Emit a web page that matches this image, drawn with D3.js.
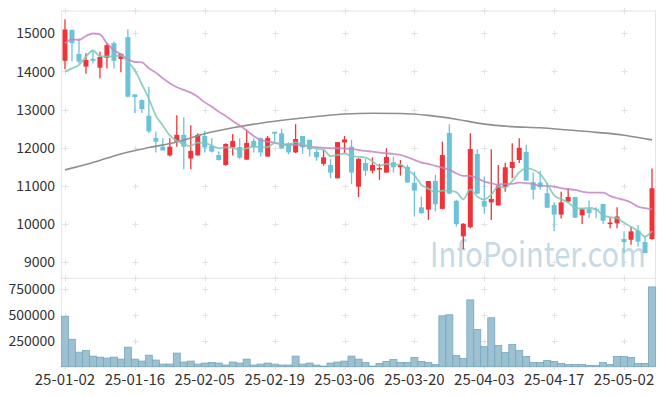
<!DOCTYPE html>
<html>
<head>
<meta charset="utf-8">
<script src="https://cdn.jsdelivr.net/npm/d3@7"></script>
<style>
  body { margin: 0; background: #fff; }
  text { font-family: "Noto Sans CJK KR", "Noto Sans", sans-serif; }
</style>
</head>
<body>
<div id="chart"></div>
<script>
// Data
const dates = [
  "25-01-02","25-01-03","25-01-06","25-01-07","25-01-08","25-01-09","25-01-10","25-01-13","25-01-14","25-01-15",
  "25-01-16","25-01-17","25-01-20","25-01-21","25-01-22","25-01-23","25-01-24","25-01-31","25-02-03","25-02-04",
  "25-02-05","25-02-06","25-02-07","25-02-10","25-02-11","25-02-12","25-02-13","25-02-14","25-02-17","25-02-18",
  "25-02-19","25-02-20","25-02-21","25-02-24","25-02-25","25-02-26","25-02-27","25-02-28","25-03-04","25-03-05",
  "25-03-06","25-03-07","25-03-10","25-03-11","25-03-12","25-03-13","25-03-14","25-03-17","25-03-18","25-03-19",
  "25-03-20","25-03-21","25-03-24","25-03-25","25-03-26","25-03-27","25-03-28","25-03-31","25-04-01","25-04-02",
  "25-04-03","25-04-04","25-04-07","25-04-08","25-04-09","25-04-10","25-04-11","25-04-14","25-04-15","25-04-16",
  "25-04-17","25-04-18","25-04-21","25-04-22","25-04-23","25-04-24","25-04-25","25-04-28","25-04-29","25-04-30",
  "25-05-02","25-05-07","25-05-08","25-05-09","25-05-12"
]
const opens = [14280,15090,14460,14130,14330,14100,14360,14740,14330,14900,13400,13250,12840,12260,12030,11800,12160,12340,11720,11800,
  12310,12050,11810,11550,12010,12020,11690,12180,12250,11770,12420,12380,12120,11880,12310,12210,11890,11580,11550,11200,
  12140,12030,10980,11600,11400,11430,11350,11620,11490,11500,11080,10440,10380,11130,10400,12390,10610,9680,9920,11840,
  10610,10570,10490,10980,11470,11680,11890,11100,11090,10810,10500,10250,10590,10710,10230,10390,10400,10530,10000,10020,
  9610,9590,9830,9530,9610]
const highs = [15370,15110,14870,14480,14560,14520,14740,14780,14480,15110,13400,13270,13600,12430,12250,12250,12850,12800,12590,12380,
  12450,12250,11900,12120,12360,12250,12470,12250,12270,12310,12420,12500,12140,12620,12310,12210,11960,11940,11700,12150,
  12310,12210,11730,11710,11750,11580,11990,11770,11680,11550,11380,10720,11130,11290,12160,12620,10640,10020,12380,11960,
  11250,11960,11550,11610,12120,12250,12080,11350,11390,11070,10570,10850,10940,10720,10420,10620,10440,10530,10180,10440,
  9810,9940,9980,9680,11460]
const lows = [14060,14260,14210,13940,14210,13820,14080,14080,13980,13320,12910,12910,12380,11880,11930,11770,12030,11440,11440,11800,
  11880,11880,11670,11530,11800,11700,11680,11880,11770,11770,12160,11980,11830,11860,11840,11770,11660,11530,11200,11200,
  11860,11050,10710,11270,11330,11160,11350,11350,11270,11090,10200,10270,10110,10330,10390,10790,9940,9340,9890,10790,
  10270,10110,10490,10850,11200,11600,11140,10650,10900,10420,9810,10150,10580,10160,10000,10160,10160,10000,9890,9890,
  9240,9460,9410,9240,9590]
const closes = [15100,14740,14260,14300,14280,14380,14690,14280,14460,13340,13330,13010,12430,12160,11930,12030,12340,12030,11920,12340,
  12010,11900,11680,12100,12180,11740,12130,12020,11880,12260,12370,11980,11880,12230,12010,11960,11750,11750,11350,12150,
  12220,11350,11710,11400,11550,11470,11760,11490,11550,11090,10880,10290,11130,10520,11810,10800,10000,10010,11970,10800,
  10460,10660,11010,11490,11630,12000,11140,10900,10970,10430,10250,10570,10710,10170,10390,10290,10370,10090,10040,10200,
  9530,9810,9540,9240,10940]
const volumes = [484000,264000,140000,156000,102000,92000,83000,92000,73000,188000,
  73000,54000,111000,64000,25000,25000,131000,45000,54000,25000,
  35000,41000,35000,16000,45000,35000,73000,16000,25000,35000,
  25000,16000,16000,102000,25000,35000,16000,6000,35000,45000,
  54000,102000,73000,41000,6000,32000,51000,70000,41000,41000,
  89000,51000,41000,22000,490000,500000,108000,80000,643000,357000,
  194000,471000,204000,137000,213000,156000,99000,41000,41000,61000,
  51000,32000,22000,22000,22000,13000,13000,41000,22000,99000,
  99000,89000,32000,32000,768000]
const ma5 = [13996,14083,14171,14390,14550,14400,14395,14400,14415,14250,14030,13665,13290,12845,12585,12325,12183,12085,12049,12134,
  12128,12055,11990,12010,12000,11945,11985,12033,12010,12020,12125,12097,12082,12140,12094,12022,11977,11952,11780,11812,
  11850,11780,11763,11745,11643,11525,11579,11557,11560,11420,11280,11030,10930,10840,10880,10880,10840,10650,10908,10720,
  10650,10773,10983,10955,11125,11355,11460,11425,11308,11058,10752,10650,10567,10435,10409,10422,10388,10230,10183,10155,
  10035,9927,9824,9670,9822]
const ma20 = [14738,14843,14825,14930,14995,14974,14738,14564,14450,14319,14249,14240,14083,13970,13821,13690,13586,13516,13446,13340,
  13190,13079,12948,12835,12704,12582,12451,12311,12206,12163,12136,12093,12075,12075,12067,12032,12014,11997,11988,11988,
  11980,11970,11944,11918,11901,11875,11857,11840,11814,11752,11683,11613,11578,11525,11482,11421,11333,11264,11264,11203,
  11115,11071,11035,11054,11054,11089,11071,11054,11002,11002,10984,10941,10914,10897,10853,10827,10827,10827,10740,10678,
  10635,10565,10460,10417,10391]
const maLongIdx = [0,4,8,12,16,20,24,28,32,36,40,44,48,52,56,60,64,68,72,76,80,82,84]
const maLong = [11421,11613,11840,12006,12150,12370,12525,12645,12740,12820,12885,12905,12900,12850,12750,12620,12555,12525,12465,12405,12330,12270,12206]
const priceTicks = [9000,10000,11000,12000,13000,14000,15000]
const volTicks = [250000,500000,750000]
const labelEvery = 10

// Layout
const WIDTH = 665, HEIGHT = 396
const LEFT = 61.5, RIGHT = 655.5
const P_TOP = 11, P_BOT = 278.3
const V_TOP = 278.3, V_BOT = 366.7

const svg = d3.select("#chart").append("svg")
  .attr("width", WIDTH)
  .attr("height", HEIGHT)

const x = d3.scaleBand()
  .domain(d3.range(dates.length))
  .range([LEFT, RIGHT])
  .padding(0)
const cx = i => x(i) + x.bandwidth() / 2
const y = d3.scaleLinear().domain([8580, 15585]).range([P_BOT, P_TOP])
const yv = d3.scaleLinear().domain([0, 851000]).range([V_BOT, V_TOP])

const gridCols = d3.range(0, dates.length, labelEvery)

// panel frames
svg.append("rect")
  .attr("x", LEFT).attr("y", P_TOP)
  .attr("width", RIGHT - LEFT).attr("height", V_BOT - P_TOP)
  .attr("fill", "none").attr("stroke", "#e6e6e6")
svg.append("line")
  .attr("x1", LEFT).attr("x2", RIGHT)
  .attr("y1", P_BOT).attr("y2", P_BOT)
  .attr("stroke", "#e6e6e6")

// grid "+" marks
function plus(px, py) {
  svg.append("path")
    .attr("d", `M${px - 3},${py}H${px + 3}M${px},${py - 3}V${py + 3}`)
    .attr("stroke", "#e2e2e2").attr("stroke-width", 1)
}
gridCols.forEach(i => {
  const px = Math.round(cx(i)) + 0.5
  priceTicks.forEach(t => plus(px, Math.round(y(t)) + 0.5))
  volTicks.forEach(t => plus(px, Math.round(yv(t)) + 0.5))
  plus(px, P_TOP); plus(px, P_BOT); plus(px, V_BOT)
})

// watermark
svg.append("text")
  .attr("x", 430).attr("y", 267)
  .attr("textLength", 216).attr("lengthAdjust", "spacingAndGlyphs")
  .style("font-size", "34px")
  .style("fill", "#c6d9e4")
  .text("InfoPointer.com")

// volume bars
svg.selectAll(".vol")
  .data(volumes)
  .join("rect")
  .attr("class", "vol")
  .attr("x", (d, i) => x(i))
  .attr("y", d => yv(d))
  .attr("width", x.bandwidth())
  .attr("height", d => V_BOT - yv(d))
  .attr("fill", "#9cc1d1")
  .attr("stroke", "#78a7be")
  .attr("stroke-width", 0.8)

// candles
const UP = "#ee3438", DOWN = "#6cc2d8"
const candles = svg.selectAll(".candle")
  .data(dates.map((d, i) => ({ i, o: opens[i], h: highs[i], l: lows[i], c: closes[i] })))
  .join("g")
  .attr("class", "candle")
candles.append("line")
  .attr("x1", d => cx(d.i)).attr("x2", d => cx(d.i))
  .attr("y1", d => y(d.h)).attr("y2", d => y(d.l))
  .attr("stroke", d => d.c >= d.o ? UP : DOWN)
  .attr("stroke-width", 1.3)
candles.append("rect")
  .attr("x", d => cx(d.i) - 2.5)
  .attr("width", 5)
  .attr("y", d => y(Math.max(d.o, d.c)))
  .attr("height", d => Math.max(1.2, Math.abs(y(d.o) - y(d.c))))
  .attr("fill", d => d.c >= d.o ? UP : DOWN)

// moving averages
const line = d3.line().x(d => cx(d[0])).y(d => y(d[1])).curve(d3.curveMonotoneX)
svg.append("path")
  .attr("d", line(maLongIdx.map((k, j) => [k, maLong[j]])))
  .attr("fill", "none").attr("stroke", "#8f8f8f").attr("stroke-width", 1.6)
svg.append("path")
  .attr("d", line(ma20.map((v, i) => [i, v])))
  .attr("fill", "none").attr("stroke", "#c585c2").attr("stroke-width", 1.8).attr("opacity", 0.85)
svg.append("path")
  .attr("d", line(ma5.map((v, i) => [i, v])))
  .attr("fill", "none").attr("stroke", "#80c8b6").attr("stroke-width", 1.8).attr("opacity", 0.85)

// axis labels
svg.selectAll(".ylab")
  .data(priceTicks)
  .join("text")
  .attr("class", "ylab")
  .attr("x", 55).attr("y", d => y(d))
  .attr("dy", "0.36em")
  .attr("text-anchor", "end")
  .style("font-size", "14px").style("fill", "#333")
  .text(d => d)
svg.selectAll(".vlab")
  .data(volTicks)
  .join("text")
  .attr("class", "vlab")
  .attr("x", 55).attr("y", d => yv(d))
  .attr("dy", "0.36em")
  .attr("text-anchor", "end")
  .style("font-size", "14px").style("fill", "#333")
  .text(d => d)
svg.selectAll(".xlab")
  .data(gridCols)
  .join("text")
  .attr("class", "xlab")
  .attr("x", i => cx(i)).attr("y", 385)
  .attr("text-anchor", "middle")
  .style("font-size", "15px").style("fill", "#333")
  .text(i => dates[i])
</script>
</body>
</html>
